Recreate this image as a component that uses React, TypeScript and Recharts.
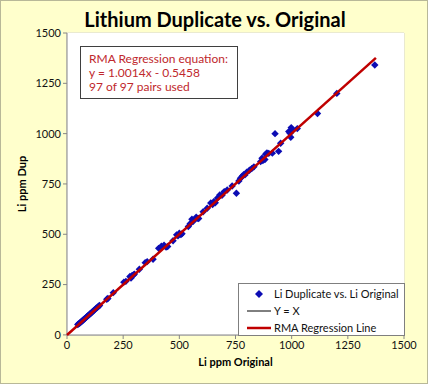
import { ScatterChart, Scatter, XAxis, YAxis, CartesianGrid } from 'recharts';

// Li ppm original vs duplicate (97 pairs)
const originalPpm = [
  48, 52, 56, 60, 64, 68, 72, 76, 80, 84, 88, 92, 96, 101, 105, 110, 115, 120, 125, 130, 135, 140, 145,
  177, 182, 206, 253, 262, 280, 285, 290, 296, 300, 322, 348, 357, 383,
  408, 420, 432, 441, 448, 472, 488, 494, 500, 507, 512, 540, 548, 556, 562,
  575, 580, 586, 606, 624, 640, 648, 653, 660, 670, 680, 690, 700, 713, 735, 754, 765,
  772, 780, 786, 792, 800, 812, 822, 832, 862, 868, 872, 881, 884, 890, 898, 914, 926, 942, 951,
  987, 993, 996, 998, 1003, 1025,
  1115, 1201, 1370,
];
const duplicatePpm = [
  52, 55, 58, 62, 66, 70, 74, 78, 81, 86, 90, 94, 98, 103, 106, 111, 117, 121, 127, 133, 136, 142, 146,
  177, 181, 210, 262, 266, 290, 283, 295, 298, 302, 326, 359, 364, 376,
  430, 441, 446, 436, 439, 468, 497, 492, 505, 498, 503, 538, 552, 575, 565,
  585, 579, 578, 612, 629, 655, 648, 662, 656, 680, 695, 694, 712, 720, 740, 704, 765,
  778, 788, 796, 795, 808, 818, 826, 835, 861, 878, 866, 871, 898, 904, 902, 903, 1000, 912, 952,
  1010, 1002, 982, 1030, 1016, 1025,
  1100, 1200, 1341,
];

// line end points
const oneToOneX = [0, 1375];
const oneToOneY = [0, 1375];
const rmaX = [0, 1375];
const rmaY = [-0.5, 1376.4];

const axisTicks = [0, 250, 500, 750, 1000, 1250, 1500];

const points = originalPpm.map((x, i) => ({ x, y: duplicatePpm[i] }));
const oneToOne = oneToOneX.map((x, i) => ({ x, y: oneToOneY[i] }));
const rmaLine = rmaX.map((x, i) => ({ x, y: rmaY[i] }));

const FONT = 'Lato, "Open Sans", sans-serif';

const Diamond = (props: any) => {
  const { cx, cy } = props;
  const r = 3.7;
  return (
    <polygon
      points={`${cx},${cy - r} ${cx + r},${cy} ${cx},${cy + r} ${cx - r},${cy}`}
      fill="#0c0cb4"
    />
  );
};

const legendItems = [
  { name: 'Li Duplicate vs. Li Original', kind: 'dot' },
  { name: 'Y = X', kind: 'black' },
  { name: 'RMA Regression Line', kind: 'red' },
];

const LegendBox = () => (
  <div
    style={{
      position: 'absolute',
      left: 237,
      top: 282,
      width: 167,
      height: 53,
      background: '#fff',
      border: '1px solid #7f7f7f',
      fontSize: 11,
      color: '#111',
      boxSizing: 'border-box',
      paddingTop: 1,
      whiteSpace: 'nowrap',
    }}
  >
    {legendItems.map((e) => (
      <div key={e.name} style={{ display: 'flex', alignItems: 'center', height: 17 }}>
        <svg width={26} height={10} style={{ marginLeft: 8, flex: 'none' }}>
          {e.kind === 'dot' && <polygon points="12,1 16,5 12,9 8,5" fill="#0c0cb4" />}
          {e.kind === 'black' && <line x1={0} y1={5} x2={24} y2={5} stroke="#000" strokeWidth={1} />}
          {e.kind === 'red' && <line x1={0} y1={5} x2={24} y2={5} stroke="#c00000" strokeWidth={2.5} />}
        </svg>
        <span style={{ marginLeft: 1 }}>{e.name}</span>
      </div>
    ))}
  </div>
);

export default function App() {
  return (
    <div
      style={{
        position: 'absolute',
        left: 0,
        top: 0,
        width: 428,
        height: 384,
        background: '#ffffcc',
        border: '1px solid #b8b898',
        boxSizing: 'border-box',
        fontFamily: FONT,
      }}
    >
      <div
        style={{
          position: 'absolute',
          left: 0,
          top: 6,
          width: 428,
          textAlign: 'center',
          fontSize: 20,
          fontWeight: 700,
          color: '#000',
        }}
      >
        Lithium Duplicate vs. Original
      </div>
      <div style={{ position: 'absolute', left: -1, top: -1 }}>
        <ScatterChart width={428} height={384} margin={{ top: 33, right: 24, bottom: 19, left: 22 }}>
          <rect x={67} y={33} width={337} height={302} fill="#fff" />
          <CartesianGrid stroke="#d4d4d4" strokeWidth={1} />
          <XAxis
            type="number"
            dataKey="x"
            domain={[0, 1500]}
            ticks={axisTicks}
            height={30}
            stroke="#868686"
            tick={{ fill: '#111', fontSize: 11 }}
            tickSize={4}
            label={{ value: 'Li ppm Original', position: 'center', dy: 12, fontSize: 11, fontWeight: 700, fill: '#000' }}
          />
          <YAxis
            type="number"
            dataKey="y"
            domain={[0, 1500]}
            ticks={axisTicks}
            width={45}
            stroke="#868686"
            tick={{ fill: '#111', fontSize: 11 }}
            tickSize={4}
            label={{ value: 'Li ppm Dup', angle: -90, position: 'center', dx: -22, fontSize: 11, fontWeight: 700, fill: '#000' }}
          />
          <Scatter
            name="Li Duplicate vs. Li Original"
            data={points}
            shape={<Diamond />}
            isAnimationActive={false}
          />
          <Scatter
            name="Y = X"
            data={oneToOne}
            line={{ stroke: '#000', strokeWidth: 1 }}
            shape={() => null}
            isAnimationActive={false}
          />
          <Scatter
            name="RMA Regression Line"
            data={rmaLine}
            line={{ stroke: '#c00000', strokeWidth: 2.5 }}
            shape={() => null}
            isAnimationActive={false}
          />
        </ScatterChart>
      </div>
      <LegendBox />
      <div
        style={{
          position: 'absolute',
          left: 79,
          top: 45,
          width: 158,
          height: 53,
          background: '#fff',
          border: '1px solid #3f3f3f',
          boxSizing: 'border-box',
          color: '#c0282d',
          fontSize: 12,
          lineHeight: '14px',
          padding: '5px 0 0 8px',
        }}
      >
        <div>RMA Regression equation:</div>
        <div>y = 1.0014x - 0.5458</div>
        <div>97 of 97 pairs used</div>
      </div>
    </div>
  );
}
